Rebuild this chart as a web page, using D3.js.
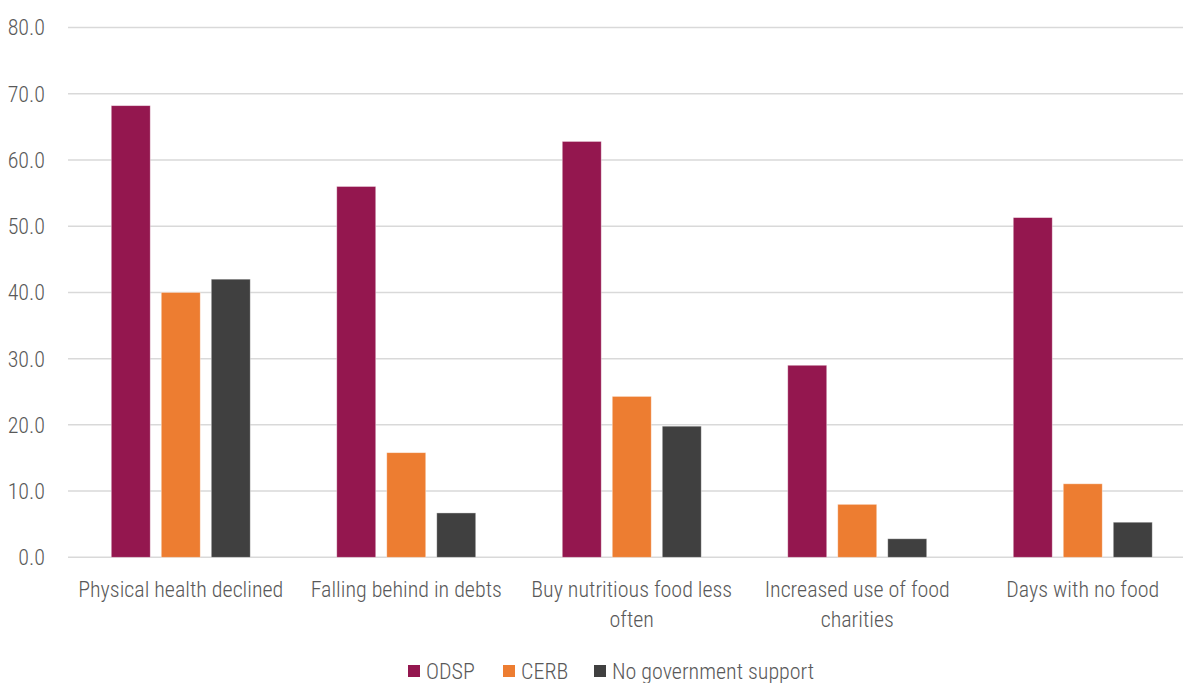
<!DOCTYPE html>
<html>
<head>
<meta charset="utf-8">
<script src="https://cdn.jsdelivr.net/npm/d3@7"></script>
<style>
  html, body { margin: 0; padding: 0; background: #fff; }
  svg text { font-family: "Roboto Condensed", "Liberation Sans Narrow", "DejaVu Sans Condensed", "Roboto", sans-serif; fill: #595959; font-weight: 300; }
</style>
</head>
<body>
<svg id="chart" width="1183" height="683"></svg>
<script>
const categories = [
  ["Physical health declined"],
  ["Falling behind in debts"],
  ["Buy nutritious food less", "often"],
  ["Increased use of food", "charities"],
  ["Days with no food"]
];
const seriesNames = ["ODSP", "CERB", "No government support"];
const odsp = [68.2, 56.0, 62.8, 29.0, 51.3];
const cerb = [40.0, 15.8, 24.3, 8.0, 11.1];
const noSupport = [42.0, 6.7, 19.8, 2.8, 5.3];
const yTicks = [0, 10, 20, 30, 40, 50, 60, 70, 80];

const colors = ["#94174f", "#ed7d31", "#404040"];
const values = [odsp, cerb, noSupport];

const svg = d3.select("#chart");
const plotLeft = 68, plotRight = 1195.5, plotTop = 27.5, plotBottom = 557.3;

const y = d3.scaleLinear().domain([0, 80]).range([plotBottom, plotTop]);
const x0 = d3.scaleBand().domain(d3.range(categories.length)).range([plotLeft, plotRight]);
const groupW = 139;
const x1 = d3.scaleBand().domain(d3.range(seriesNames.length)).range([0, groupW]).paddingInner(0.22);

// gridlines
svg.append("g")
  .selectAll("line")
  .data(yTicks)
  .join("line")
  .attr("x1", plotLeft)
  .attr("x2", 1183)
  .attr("y1", d => y(d))
  .attr("y2", d => y(d))
  .attr("stroke", "#d9d9d9")
  .attr("stroke-width", 1.5);

// y tick labels
svg.append("g")
  .selectAll("text")
  .data(yTicks)
  .join("text")
  .attr("x", 45)
  .attr("y", d => y(d))
  .attr("dy", "0.36em")
  .attr("text-anchor", "end")
  .attr("font-size", 22)
  .text(d => d.toFixed(1));

// bars
const groups = svg.append("g")
  .selectAll("g")
  .data(categories)
  .join("g")
  .attr("transform", (d, i) => `translate(${x0(i) + (x0.bandwidth() - groupW) / 2},0)`);

groups.selectAll("rect")
  .data((d, i) => values.map((s, k) => ({ k, v: s[i] })))
  .join("rect")
  .attr("x", d => x1(d.k))
  .attr("width", x1.bandwidth())
  .attr("y", d => y(d.v))
  .attr("height", d => plotBottom - y(d.v))
  .attr("fill", d => colors[d.k])
  .attr("stroke", "rgba(255,255,255,0.5)")
  .attr("stroke-width", 0.8);

// category labels
const labels = svg.append("g")
  .selectAll("text")
  .data(categories)
  .join("text")
  .attr("text-anchor", "middle")
  .attr("font-size", 22)
  .attr("x", (d, i) => x0(i) + x0.bandwidth() / 2)
  .attr("y", 597);

labels.selectAll("tspan")
  .data(d => d)
  .join("tspan")
  .attr("x", function () { return d3.select(this.parentNode).attr("x"); })
  .attr("dy", (d, j) => j === 0 ? 0 : 30)
  .text(d => d);

// legend
const legendX = [408, 503, 594];
const legend = svg.append("g")
  .selectAll("g")
  .data(seriesNames)
  .join("g")
  .attr("transform", (d, i) => `translate(${legendX[i]},665)`);

legend.append("rect")
  .attr("width", 12)
  .attr("height", 12)
  .attr("fill", (d, i) => colors[i]);

legend.append("text")
  .attr("x", 18)
  .attr("y", 6)
  .attr("dy", "0.36em")
  .attr("font-size", 22)
  .text(d => d);
</script>
</body>
</html>
